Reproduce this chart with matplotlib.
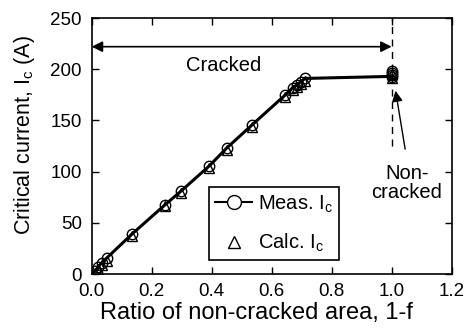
import matplotlib
matplotlib.use("Agg")
import matplotlib.pyplot as plt

plt.rcParams['font.family'] = ['Liberation Sans', 'DejaVu Sans']
plt.rcParams['mathtext.fontset'] = 'custom'
plt.rcParams['mathtext.rm'] = 'Liberation Sans'

# measured Ic vs ratio of non-cracked area
meas_x = [0.011, 0.022, 0.033, 0.05, 0.133, 0.244, 0.297, 0.392, 0.45, 0.536,
          0.644, 0.67, 0.686, 0.697, 0.711, 1.0, 1.0, 1.0, 1.0]
meas_y = [3, 7, 11, 15.6, 38.7, 67.5, 80.8, 105.6, 123, 146,
          174.5, 182, 185, 188, 191, 192, 194, 196, 198]
# calculated Ic
calc_x = [0.011, 0.022, 0.033, 0.05, 0.133, 0.244, 0.297, 0.392, 0.45, 0.536,
          0.644, 0.67, 0.686, 0.697, 0.711, 1.0, 1.0]
calc_y = [1, 5, 9, 13, 37, 66, 79.5, 104, 121, 144,
          172.5, 179.5, 183, 186, 188.5, 191, 195]

fig = plt.figure(figsize=(4.69, 3.31), dpi=100)
ax = fig.add_axes([0.1955, 0.172, 0.7675, 0.7736])

line_x = [0.0] + meas_x[:15] + [1.0]
line_y = [0.0] + meas_y[:15] + [193]
ax.plot(line_x, line_y, color='black', lw=2.2, zorder=2)
ax.plot(meas_x, meas_y, 'o', mfc='none', mec='black', ms=7.5, mew=1, zorder=3)
ax.plot(calc_x, calc_y, '^', mfc='none', mec='black', ms=7.5, mew=1, zorder=3)

h1, = ax.plot([], [], '-o', color='black', mfc='white', mec='black', ms=10, lw=1.5)
h2, = ax.plot([], [], '^', mfc='none', mec='black', ms=8, mew=1)
leg = ax.legend([h1, h2], [r'Meas. I$_\mathregular{c}$', r'Calc. I$_\mathregular{c}$'],
                loc='lower left', bbox_to_anchor=(0.326, 0.055), fontsize=14.5,
                frameon=True, fancybox=False, edgecolor='black', framealpha=1,
                handlelength=1.85, handletextpad=0.3, borderpad=0.3,
                labelspacing=0.85, borderaxespad=0)
leg.get_frame().set_linewidth(1.2)

# cracked region arrow
ax.annotate('', xy=(0.0, 222), xytext=(1.0, 222),
            arrowprops=dict(arrowstyle='<|-|>', color='black', lw=1.2,
                            mutation_scale=16, shrinkA=0, shrinkB=0))
ax.text(0.44, 204, 'Cracked', ha='center', va='center', fontsize=14.5)
ax.plot([1.0, 1.0], [125, 250], ls=(0, (5, 4)), color='black', lw=1, zorder=1)

ax.annotate('', xy=(1.013, 179), xytext=(1.045, 122),
            arrowprops=dict(arrowstyle='-|>', color='black', lw=1,
                            mutation_scale=16, shrinkA=0, shrinkB=0))
ax.text(1.05, 89, 'Non-\ncracked', ha='center', va='center', fontsize=14.5,
        linespacing=1.05)

ax.set_xlim(0, 1.2)
ax.set_ylim(0, 250)
ax.set_xticks([0.0, 0.2, 0.4, 0.6, 0.8, 1.0, 1.2])
ax.set_xticklabels(['0.0', '0.2', '0.4', '0.6', '0.8', '1.0', '1.2'])
ax.set_yticks([0, 50, 100, 150, 200, 250])
ax.tick_params(direction='in', top=True, right=True, length=5, width=1,
               labelsize=13.5)
ax.tick_params(axis='x', pad=6.5)
ax.tick_params(axis='y', pad=7)
for s in ax.spines.values():
    s.set_linewidth(1.2)

ax.set_xlabel('Ratio of non-cracked area, 1-f', fontsize=17)
ax.set_ylabel(r'Critical current, I$_\mathregular{c}$ (A)', fontsize=15.5)
ax.xaxis.set_label_coords(0.458, -0.11)
ax.yaxis.set_label_coords(-0.153, 0.545)

fig.savefig('out.png', dpi=100)
